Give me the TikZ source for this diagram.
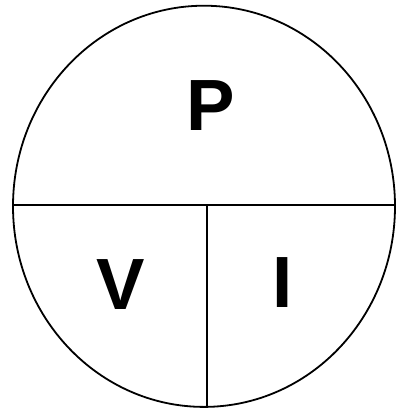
\documentclass[tikz,border=0pt]{standalone}
\usepackage{fontspec}
\setmainfont{Liberation Sans}
\begin{document}
\begin{tikzpicture}[x=1pt,y=-1pt,
  edge/.style={line width=1.8pt,black},
  letter/.style={inner sep=0pt,font=\fontsize{72.6}{80}\selectfont\bfseries}]
\useasboundingbox (0,0) rectangle (398,409);
\coordinate (c) at (204,206.3);
\draw[edge] (c) ellipse [x radius=191, y radius=200.6];
\coordinate (hl) at (13,205);
\coordinate (hr) at (395,205);
\coordinate (vt) at (206.7,205);
\coordinate (vb) at (206.7,406.9);
\draw[edge] (hl) -- (hr);
\draw[edge] (vt) -- (vb);
\node[letter] (P) at (211,106) {P};
\node[letter] (V) at (121,284.5) {V};
\node[letter] (I) at (283,283) {I};
\end{tikzpicture}
\end{document}
